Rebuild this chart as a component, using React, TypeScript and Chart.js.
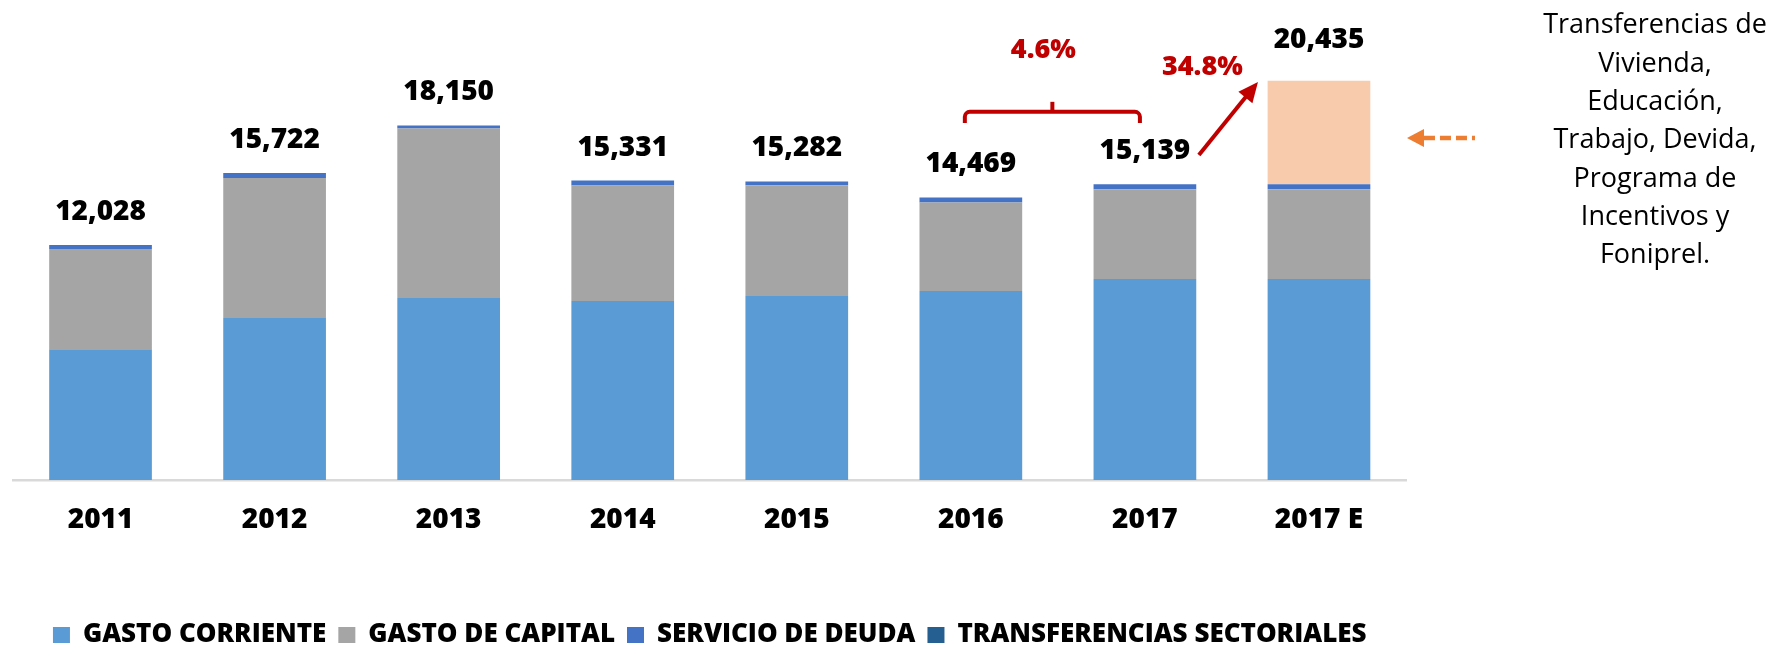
import React, { useEffect, useRef } from "react";
import { Chart, registerables } from "chart.js";

Chart.register(...registerables);

const categories = ["2011", "2012", "2013", "2014", "2015", "2016", "2017", "2017 E"];
const gastoCorriente = [6700, 8290, 9320, 9165, 9420, 9680, 10290, 10290];
const gastoCapital = [5128, 7176, 8680, 5910, 5672, 4533, 4593, 4593];
const servicioDeuda = [200, 256, 150, 256, 190, 256, 256, 256];
const transferencias = [0, 0, 0, 0, 0, 0, 0, 5296];

const seriesNames = ["GASTO CORRIENTE", "GASTO DE CAPITAL", "SERVICIO DE DEUDA", "TRANSFERENCIAS SECTORIALES"];
const growthLabels = ["4.6%", "34.8%"];
const noteLines = [
  "Transferencias de",
  "Vivienda,",
  "Educación,",
  "Trabajo, Devida,",
  "Programa de",
  "Incentivos y",
  "Foniprel.",
];

const FONT = "'Open Sans', 'Liberation Sans', sans-serif";
const RED = "#C00000";
const ORANGE = "#ED7D31";

function arrowHead(ctx: CanvasRenderingContext2D, x1: number, y1: number, x2: number, y2: number, len: number, half: number) {
  const ang = Math.atan2(y2 - y1, x2 - x1);
  const bx = x2 - len * Math.cos(ang);
  const by = y2 - len * Math.sin(ang);
  ctx.beginPath();
  ctx.moveTo(x2, y2);
  ctx.lineTo(bx + half * Math.sin(ang), by - half * Math.cos(ang));
  ctx.lineTo(bx - half * Math.sin(ang), by + half * Math.cos(ang));
  ctx.closePath();
  ctx.fill();
}

const annotationPlugin = {
  id: "annotations",
  afterDatasetsDraw(chart: any) {
    const ctx: CanvasRenderingContext2D = chart.ctx;
    const xs = chart.scales.x;
    const ys = chart.scales.y;
    ctx.save();

    // totals
    ctx.font = `800 28px ${FONT}`;
    ctx.fillStyle = "#000000";
    ctx.textAlign = "center";
    ctx.textBaseline = "middle";
    categories.forEach((_, i) => {
      const total = gastoCorriente[i] + gastoCapital[i] + servicioDeuda[i] + transferencias[i];
      const px = xs.getPixelForValue(i);
      const py = ys.getPixelForValue(total);
      const off = transferencias[i] > 0 ? 41 : 33;
      ctx.fillText(total.toLocaleString("en-US"), px, py - off);
    });

    // bracket between 2016 and 2017
    const x5 = xs.getPixelForValue(5);
    const x6 = xs.getPixelForValue(6);
    const x7 = xs.getPixelForValue(7);
    const left = x5 - 6;
    const right = x6 - 5;
    const yB = ys.getPixelForValue(18850);
    const yEnd = ys.getPixelForValue(18280);
    const mid = (left + right) / 2;
    ctx.strokeStyle = RED;
    ctx.lineWidth = 4;
    ctx.lineJoin = "round";
    ctx.lineCap = "butt";
    ctx.beginPath();
    ctx.moveTo(left, yEnd);
    ctx.arcTo(left, yB, left + 6, yB, 5);
    ctx.lineTo(right - 6, yB);
    ctx.arcTo(right, yB, right, yEnd, 5);
    ctx.lineTo(right, yEnd);
    ctx.stroke();
    ctx.beginPath();
    ctx.moveTo(mid, yB);
    ctx.lineTo(mid, yB - 10);
    ctx.stroke();

    ctx.font = `800 27px ${FONT}`;
    ctx.fillStyle = RED;
    ctx.fillText(growthLabels[0], mid - 9, yB - 62);

    // arrow 2017 -> 2017 E
    const ax1 = x6 + 54;
    const ay1 = ys.getPixelForValue(16640);
    const ax2 = x7 - 61;
    const ay2 = ys.getPixelForValue(20380);
    const ang = Math.atan2(ay2 - ay1, ax2 - ax1);
    ctx.beginPath();
    ctx.moveTo(ax1, ay1);
    ctx.lineTo(ax2 - 14 * Math.cos(ang), ay2 - 14 * Math.sin(ang));
    ctx.stroke();
    arrowHead(ctx, ax1, ay1, ax2, ay2, 20, 9);
    ctx.fillText(growthLabels[1], x6 + 57.5, ys.getPixelForValue(21146));

    // orange dashed arrow
    const oy = ys.getPixelForValue(17510);
    const oTip = x7 + 88;
    const oEnd = x7 + 156;
    ctx.strokeStyle = ORANGE;
    ctx.fillStyle = ORANGE;
    ctx.lineWidth = 4.5;
    ctx.setLineDash([11, 5]);
    ctx.beginPath();
    ctx.moveTo(oTip + 17, oy);
    ctx.lineTo(oEnd, oy);
    ctx.stroke();
    ctx.setLineDash([]);
    arrowHead(ctx, oEnd, oy, oTip, oy, 17, 9);

    // note text
    ctx.font = `27px ${FONT}`;
    ctx.fillStyle = "#000000";
    ctx.textAlign = "center";
    ctx.textBaseline = "alphabetic";
    noteLines.forEach((line, i) => {
      ctx.fillText(line, 1655, 33.3 + 38.33 * i);
    });

    ctx.restore();
  },
};

export default function App() {
  const canvasRef = useRef<HTMLCanvasElement | null>(null);

  useEffect(() => {
    document.body.style.margin = "0";
    const canvas = canvasRef.current;
    if (!canvas) return;
    const chart = new Chart(canvas, {
      type: "bar",
      data: {
        labels: categories,
        datasets: [
          { label: seriesNames[0], data: gastoCorriente, backgroundColor: "#5B9BD5", borderWidth: 0 },
          { label: seriesNames[1], data: gastoCapital, backgroundColor: "#A5A5A5", borderWidth: 0 },
          { label: seriesNames[2], data: servicioDeuda, backgroundColor: "#4472C4", borderWidth: 0 },
          { label: seriesNames[3], data: transferencias, backgroundColor: "#F8CBAD", borderWidth: 0, legendColor: "#255E91" } as any,
        ],
      },
      options: {
        responsive: false,
        animation: false,
        devicePixelRatio: 1,
        layout: { padding: { left: 13.5, right: 365, top: 50.3, bottom: 0 } },
        datasets: { bar: { barPercentage: 0.59, categoryPercentage: 1 } },
        scales: {
          x: {
            stacked: true,
            grid: { display: false, drawTicks: false },
            border: { display: true, color: "#D9D9D9", width: 2.5 },
            ticks: { color: "#000000", font: { family: FONT, size: 28, weight: "800" }, padding: 23 },
            afterFit: (scale: any) => {
              scale.height = 130;
            },
          },
          y: {
            stacked: true,
            display: false,
            min: 0,
            max: 22000,
          },
        },
        plugins: {
          tooltip: { enabled: false },
          legend: {
            position: "bottom",
            labels: {
              color: "#000000",
              font: { family: FONT, size: 26, weight: "800" },
              boxWidth: 17,
              boxHeight: 16,
              padding: 12,
              generateLabels: (ch: any) => {
                const items = Chart.defaults.plugins.legend.labels.generateLabels(ch);
                items.forEach((it: any, i: number) => {
                  const ds: any = ch.data.datasets[i];
                  const c = ds.legendColor || ds.backgroundColor;
                  it.fillStyle = c;
                  it.strokeStyle = c;
                  it.lineWidth = 0;
                });
                return items;
              },
            },
          },
        },
      } as any,
      plugins: [annotationPlugin],
    });
    return () => chart.destroy();
  }, []);

  return (
    <div style={{ position: "fixed", left: 0, top: 0, width: 1771, height: 648, overflow: "hidden", background: "#ffffff" }}>
      <canvas ref={canvasRef} width={1771} height={658} style={{ display: "block", width: 1771, height: 658 }} />
    </div>
  );
}
